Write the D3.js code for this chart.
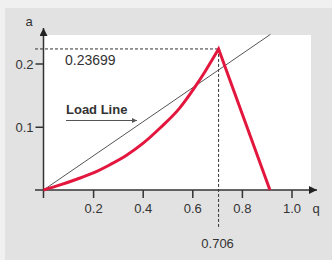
<!DOCTYPE html>
<html>
<head>
<meta charset="utf-8">
<script src="https://cdn.jsdelivr.net/npm/d3@7"></script>
<style>
  body { margin: 0; background: #f0f0f0; }
  text { font-family: "Liberation Sans", Arial, sans-serif; fill: #333; }
</style>
</head>
<body>
<div id="chart"></div>
<script>
// rising part of the curve (q, a)
const riseQ = [0, 0.067, 0.134, 0.201, 0.268, 0.335, 0.402, 0.47, 0.548, 0.611, 0.651, 0.685, 0.706];
const riseA = [0, 0.008, 0.017, 0.027, 0.040, 0.055, 0.074, 0.098, 0.129, 0.163, 0.187, 0.209, 0.223];
// falling part
const fallQ = [0.706, 0.913];
const fallA = [0.223, 0];
// load line
const loadQ = [0, 0.915];
const loadA = [0, 0.246];
const xTicks = [0.2, 0.4, 0.6, 0.8, 1.0];
const yTicks = [0.1, 0.2];
const peakQ = 0.706, peakA = 0.223;
const peakALabel = "0.23699", peakQLabel = "0.706";

const W = 332, H = 260;
const svg = d3.select("#chart").append("svg")
    .attr("width", W).attr("height", H);

svg.append("rect").attr("x", 5).attr("y", 8).attr("width", W - 5).attr("height", H - 8)
    .attr("fill", "#e2e2e2");

const x = d3.scaleLinear().domain([0, 1]).range([43.5, 291.5]);
const y = d3.scaleLinear().domain([0, 0.2]).range([190, 63.5]);

svg.append("rect").attr("x", x(0)).attr("y", 35)
    .attr("width", 311 - x(0)).attr("height", y(0) - 35)
    .attr("fill", "#fff");

const defs = svg.append("defs");
defs.append("marker").attr("id", "ax").attr("viewBox", "0 0 10 10")
    .attr("refX", 10).attr("refY", 5).attr("markerWidth", 8).attr("markerHeight", 8)
    .attr("markerUnits", "userSpaceOnUse").attr("orient", "auto")
    .append("path").attr("d", "M0,0L10,5L0,10z").attr("fill", "#222");
defs.append("marker").attr("id", "sm").attr("viewBox", "0 0 10 10")
    .attr("refX", 10).attr("refY", 5).attr("markerWidth", 5).attr("markerHeight", 5)
    .attr("markerUnits", "userSpaceOnUse").attr("orient", "auto")
    .append("path").attr("d", "M0,0L10,5L0,10z").attr("fill", "#555");

// dashed guides
svg.append("line")
    .attr("x1", 35).attr("x2", x(peakQ)).attr("y1", y(peakA)).attr("y2", y(peakA))
    .attr("stroke", "#333").attr("stroke-dasharray", "3,2");
svg.append("line")
    .attr("x1", x(peakQ)).attr("x2", x(peakQ)).attr("y1", y(peakA)).attr("y2", 229)
    .attr("stroke", "#333").attr("stroke-dasharray", "3,2");

// axes
const xAxis = svg.append("g").attr("transform", `translate(0,${y(0)})`)
    .call(d3.axisBottom(x).tickValues(xTicks).tickSize(8).tickPadding(6)
        .tickFormat(d3.format(".1f")));
const yAxis = svg.append("g").attr("transform", `translate(${x(0)},0)`)
    .call(d3.axisLeft(y).tickValues(yTicks).tickSize(8).tickPadding(2)
        .tickFormat(d3.format(".1f")));
[xAxis, yAxis].forEach(g => {
    g.select(".domain").remove();
    g.selectAll(".tick line").attr("stroke", "#333").attr("stroke-width", 1.5);
    g.selectAll(".tick text").attr("fill", "#333").style("font-size", "13px")
        .style("font-family", '"Liberation Sans", Arial, sans-serif');
});
yAxis.selectAll(".tick text").attr("dy", "0.36em");

svg.append("line").attr("x1", 35).attr("x2", 317).attr("y1", y(0)).attr("y2", y(0))
    .attr("stroke", "#333").attr("stroke-width", 1.5).attr("marker-end", "url(#ax)");
svg.append("line").attr("x1", x(0)).attr("x2", x(0)).attr("y1", 198).attr("y2", 28)
    .attr("stroke", "#333").attr("stroke-width", 1.5).attr("marker-end", "url(#ax)");

svg.append("text").attr("x", 29).attr("y", 26).attr("text-anchor", "middle")
    .style("font-size", "13px").text("a");
svg.append("text").attr("x", 316).attr("y", 213).attr("text-anchor", "middle")
    .style("font-size", "13px").text("q");

// load line
const line = d3.line().x(d => x(d[0])).y(d => y(d[1]));
svg.append("path")
    .attr("d", line(d3.zip(loadQ, loadA)))
    .attr("fill", "none").attr("stroke", "#555").attr("stroke-width", 1);

// curve
const curve = d3.line().x(d => x(d[0])).y(d => y(d[1])).curve(d3.curveMonotoneX);
svg.append("path")
    .attr("d", curve(d3.zip(riseQ, riseA)) + line(d3.zip(fallQ, fallA)).replace("M", "L"))
    .attr("fill", "none").attr("stroke", "#e3173e").attr("stroke-width", 3)
    .attr("stroke-linejoin", "miter");

// labels
svg.append("text").attr("x", 65).attr("y", 65)
    .style("font-size", "14px").text(peakALabel);
svg.append("text").attr("x", x(peakQ) - 1).attr("y", 248).attr("text-anchor", "middle")
    .style("font-size", "13px").text(peakQLabel);
svg.append("text").attr("x", 66).attr("y", 114)
    .style("font-size", "13px").style("font-weight", "bold").attr("fill", "#222")
    .text("Load Line");
svg.append("line").attr("x1", 66).attr("x2", 137).attr("y1", 120.5).attr("y2", 120.5)
    .attr("stroke", "#555").attr("stroke-width", 1).attr("marker-end", "url(#sm)");
</script>
</body>
</html>
